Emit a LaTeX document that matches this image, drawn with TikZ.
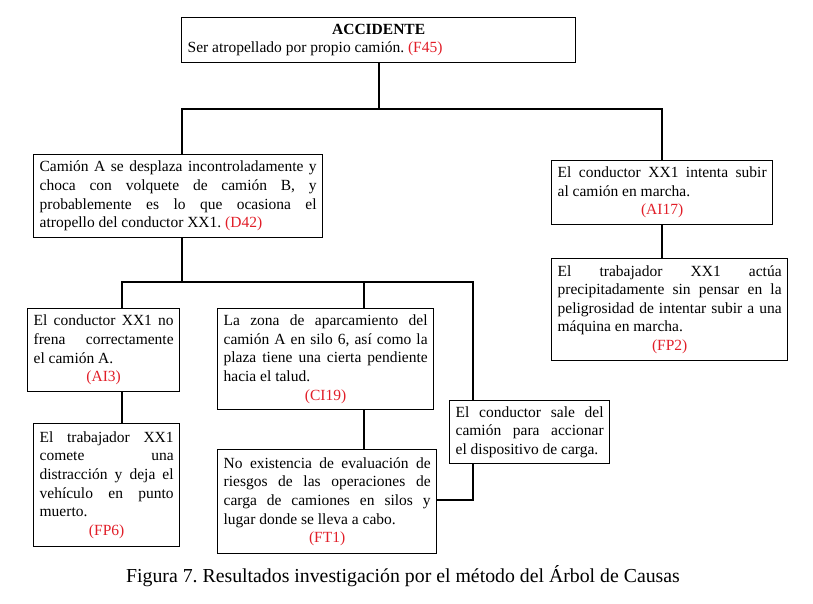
\documentclass[tikz,border=0pt]{standalone}
\usepackage{fontspec}
\setmainfont{Liberation Serif}
\usepackage{xcolor}
\usetikzlibrary{positioning,calc}
\frenchspacing

\definecolor{codered}{RGB}{225,30,40}
\newcommand{\jline}[1]{\makebox[\hsize][s]{#1}\\}
\newcommand{\ccode}[1]{\textcolor{codered}{(#1)}}
\newcommand{\cenline}[1]{\makebox[\hsize]{#1}}

\begin{document}
\begin{tikzpicture}[x=1pt,y=-1pt,
  cause/.style={draw,rectangle,line width=1.3pt,anchor=north west,align=justify,
                font=\fontsize{15.5}{18.6}\selectfont,inner xsep=6pt,inner ysep=3pt},
  conn/.style={line width=2.3pt,line join=miter}
]
\useasboundingbox (0,0) rectangle (813,603);

% Accident
\node[cause,text width=382pt,minimum height=45pt] (acc) at (181,17)
  {\cenline{\textbf{ACCIDENTE}}\\Ser atropellado por propio camión. \ccode{F45}};

% First level
\node[cause,text width=277pt,minimum height=83pt] (d42) at (33,154)
  {\jline{Camión A se desplaza incontroladamente y}
   \jline{choca con volquete de camión B, y}
   \jline{probablemente es lo que ocasiona el}
   atropello del conductor XX1. \ccode{D42}};
\node[cause,text width=209pt,minimum height=64pt] (ai17) at (551,160)
  {\jline{El conductor XX1 intenta subir}
   al camión en marcha.\\
   \cenline{\ccode{AI17}}};
\node[cause,text width=224pt,minimum height=102pt] (fp2) at (551,258)
  {\jline{El trabajador XX1 actúa}
   \jline{precipitadamente sin pensar en la}
   \jline{peligrosidad de intentar subir a una}
   máquina en marcha.\\
   \cenline{\ccode{FP2}}};

% Second level
\node[cause,text width=140pt,minimum height=83pt] (ai3) at (27,308)
  {\jline{El conductor XX1 no}
   \jline{frena correctamente}
   el camión A.\\
   \cenline{\ccode{AI3}}};
\node[cause,text width=134pt,minimum height=123pt] (fp6) at (33,423)
  {\jline{El trabajador XX1}
   \jline{comete una}
   \jline{distracción y deja el}
   \jline{vehículo en punto}
   muerto.\\
   \cenline{\ccode{FP6}}};
\node[cause,text width=204pt,minimum height=101pt] (ci19) at (217,308)
  {\jline{La zona de aparcamiento del}
   \jline{camión A en silo 6, así como la}
   \jline{plaza tiene una cierta pendiente}
   hacia el talud.\\
   \cenline{\ccode{CI19}}};
\node[cause,text width=207pt,minimum height=104pt] (ft1) at (217,449)
  {\jline{No existencia de evaluación de}
   \jline{riesgos de las operaciones de}
   \jline{carga de camiones en silos y}
   lugar donde se lleva a cabo.\\
   \cenline{\ccode{FT1}}};
\node[cause,text width=148pt,minimum height=63pt] (sale) at (449,400)
  {\jline{El conductor sale del}
   \jline{camión para accionar}
   el dispositivo de carga.};

% Junctions
\coordinate (jA) at (182,109);
\coordinate (jB) at (662,109);
\coordinate (jC) at (122,282);
\coordinate (jD) at (364,282);
\coordinate (jE) at (473,282);
\coordinate (jF) at (473,500);

% Connectors
\draw[conn] (acc.south) -- (acc.south |- jA);
\draw[conn] (d42.north -| jA) -- (jA) -- (jB) -- (ai17.north -| jB);
\draw[conn] (ai17.south -| jB) -- (fp2.north -| jB);
\draw[conn] (d42.south -| jA) -- (jA |- jC);
\draw[conn] (ai3.north -| jC) -- (jC) -- (jE) -- (sale.north -| jE);
\draw[conn] (jD) -- (ci19.north -| jD);
\draw[conn] (ai3.south -| jC) -- (fp6.north -| jC);
\draw[conn] (ci19.south -| jD) -- (ft1.north -| jD);
\draw[conn] (sale.south -| jE) -- (jF) -- (ft1.east |- jF);

% Caption
\node[font=\fontsize{19.8}{23}\selectfont] (cap) at (403,576)
  {Figura 7. Resultados investigación por el método del Árbol de Causas};

\end{tikzpicture}
\end{document}
